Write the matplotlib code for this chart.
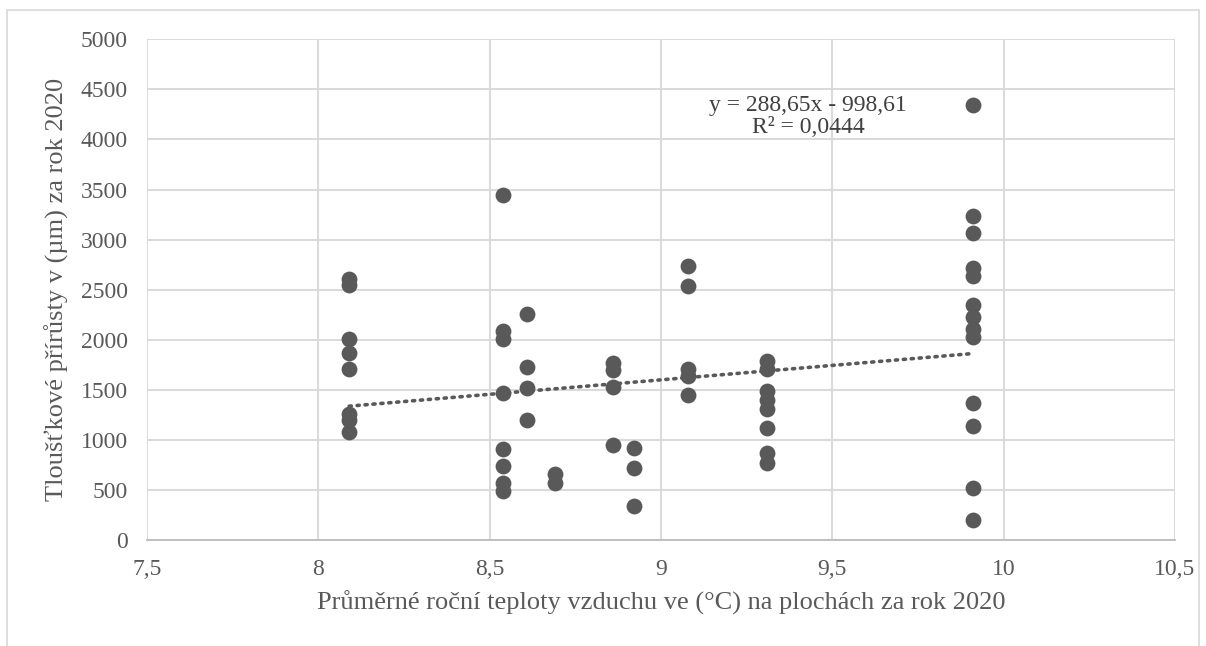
import matplotlib.pyplot as plt
import numpy as np
from matplotlib.patches import Rectangle

# temperature per plot (x) and ring-width increments (y)
teploty = [8.09] * 8 + [8.54] * 8 + [8.61] * 4 + [8.69] * 2 + [8.86] * 4 + \
          [8.92] * 3 + [9.08] * 5 + [9.31] * 8 + [9.91] * 13
prirusty = [2610, 2550, 2010, 1870, 1710, 1260, 1200, 1080,
            3450, 2090, 2010, 1470, 910, 740, 570, 490,
            2260, 1730, 1520, 1200,
            660, 570,
            1770, 1700, 1530, 950,
            920, 720, 340,
            2740, 2540, 1710, 1640, 1450,
            1790, 1710, 1490, 1400, 1310, 1120, 870, 770,
            4340, 3240, 3070, 2720, 2640, 2350, 2230, 2110, 2030, 1370, 1140, 515, 200]
teploty = teploty[:len(prirusty)]

sklon = 288.65
posun = -998.61
rovnice = "y = 288,65x - 998,61\nR² = 0,0444"

x_ticks = [7.5, 8, 8.5, 9, 9.5, 10, 10.5]
x_labels = ["7,5", "8", "8,5", "9", "9,5", "10", "10,5"]
y_ticks = list(range(0, 5001, 500))

plt.rcParams['font.family'] = ['Liberation Serif', 'DejaVu Serif']

fig = plt.figure(figsize=(12.06, 6.46), dpi=100)
ax = fig.add_axes([147 / 1206, 1 - 540 / 646, (1175 - 147) / 1206, (540 - 39.3) / 646])

ax.scatter(teploty, prirusty, s=130, color="#595959", zorder=3, linewidths=0)

xs = np.linspace(min(teploty), max(teploty), 2)
ax.plot(xs, sklon * xs + posun, linestyle=(0, (0.6, 1.6)), color="#595959",
        linewidth=2.6, dash_capstyle="round", zorder=2)

ax.text(9.43, 4230, rovnice, ha="center", va="center", fontsize=17,
        color="#404040", linespacing=1.1)

ax.set_xlim(7.5, 10.5)
ax.set_ylim(0, 5000)
ax.set_xticks(x_ticks)
ax.set_xticklabels(x_labels)
ax.set_yticks(y_ticks)
ax.tick_params(length=0, labelsize=17, labelcolor="#595959", pad=14)
ax.grid(True, color="#d9d9d9", linewidth=1.4)
ax.set_axisbelow(True)
for s in ["top", "right", "left"]:
    ax.spines[s].set_visible(False)
ax.spines["bottom"].set_color("#bfbfbf")
ax.spines["bottom"].set_linewidth(1.4)

ax.set_xlabel("Průměrné roční teploty vzduchu ve (°C) na plochách za rok 2020",
              fontsize=19, color="#595959", labelpad=7)
ax.set_ylabel("Tloušťkové přírůsty v (µm) za rok 2020", fontsize=19,
              color="#595959", labelpad=8)

fig.patches.append(Rectangle((7 / 1206, -0.05), 1192 / 1206, 1.05 - 10 / 646,
                             transform=fig.transFigure, fill=False,
                             edgecolor="#d9d9d9", linewidth=1.2))

fig.savefig("out.png", dpi=100)
